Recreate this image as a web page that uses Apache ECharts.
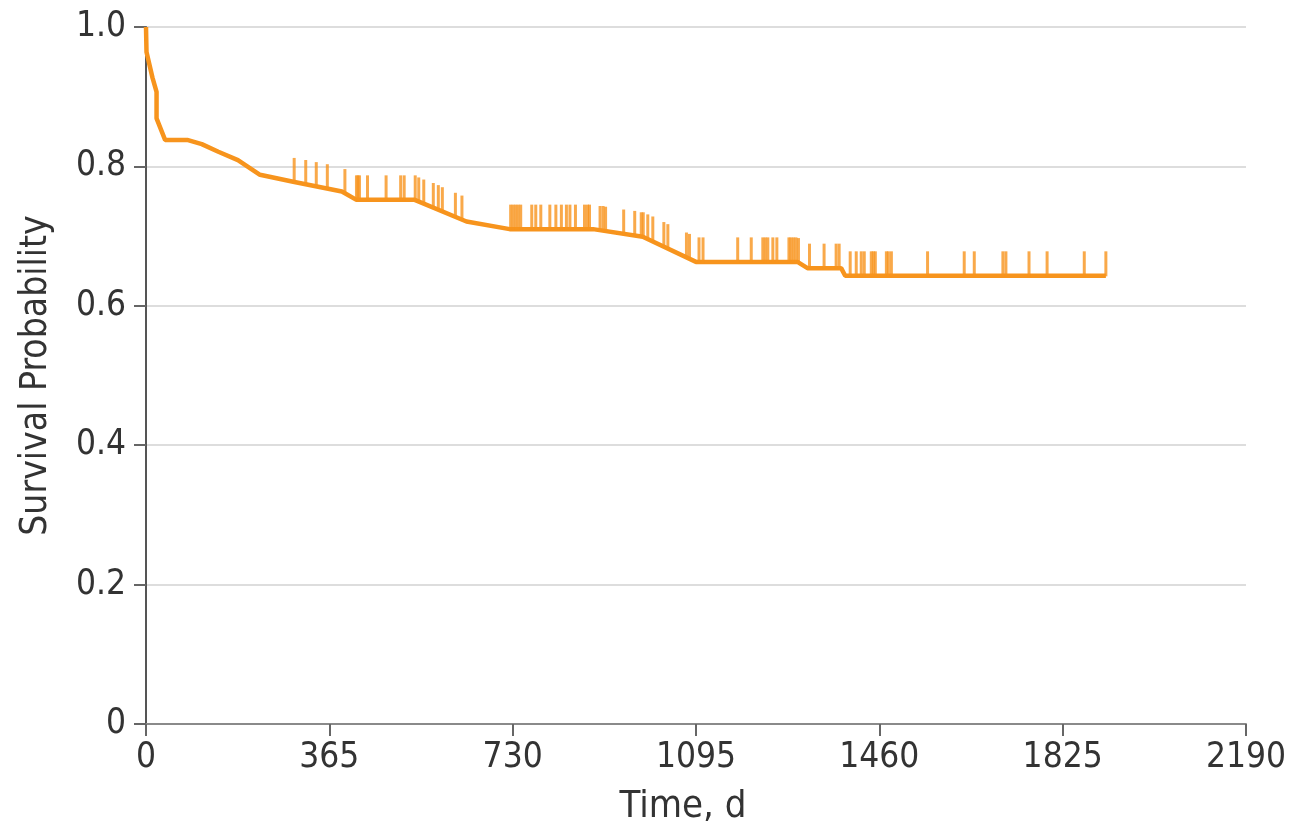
<!DOCTYPE html>
<html>
<head>
<meta charset="utf-8">
<script src="https://cdn.jsdelivr.net/npm/echarts@6/dist/echarts.min.js"></script>
<style>
  html, body { margin: 0; padding: 0; background: #fff; }
  #chart { width: 1294px; height: 839px; }
</style>
</head>
<body>
<div id="chart"></div>
<script>
// Kaplan-Meier curve (days, survival probability)
const curveDays = [0, 1, 13, 21, 21, 38, 82, 111, 144, 183, 227, 293, 390, 419, 535, 638, 724, 890, 989, 1095, 1297, 1317, 1384, 1392, 1911]
const curveSurv = [1.0, 0.964, 0.927, 0.907, 0.869, 0.838, 0.838, 0.832, 0.821, 0.809, 0.788, 0.778, 0.764, 0.752, 0.752, 0.721, 0.710, 0.710, 0.699, 0.663, 0.663, 0.654, 0.654, 0.643, 0.643]

// censored observations (tick marks)
const censorDays = [
  295, 318, 339, 361, 396,
  419, 422, 425, 441, 478, 507, 514,
  536, 543, 553, 572, 582, 590, 616, 629,
  726, 731, 736, 741, 746, 768, 776, 786, 804, 816, 827, 837, 844, 855, 873, 879, 883,
  904, 910, 915, 951, 973, 986,
  990, 999, 1009, 1031, 1039, 1076, 1082,
  1101, 1109, 1178, 1205, 1228, 1233, 1238, 1248, 1256, 1280, 1284, 1289, 1294, 1299,
  1321, 1350, 1374, 1380,
  1402, 1414, 1424, 1430, 1444, 1448, 1452, 1474, 1478, 1484, 1556, 1629, 1649, 1706, 1712, 1758, 1794, 1868, 1911
]
const censorSurv = [
  0.777, 0.774, 0.771, 0.768, 0.761,
  0.752, 0.752, 0.752, 0.752, 0.752, 0.752, 0.752,
  0.752, 0.749, 0.746, 0.741, 0.738, 0.735, 0.727, 0.723,
  0.710, 0.710, 0.710, 0.710, 0.710, 0.710, 0.710, 0.710, 0.710, 0.710, 0.710, 0.710, 0.710, 0.710, 0.710, 0.710, 0.710,
  0.708, 0.708, 0.707, 0.703, 0.701, 0.699,
  0.699, 0.696, 0.693, 0.685, 0.682, 0.670, 0.668,
  0.663, 0.663, 0.663, 0.663, 0.663, 0.663, 0.663, 0.663, 0.663, 0.663, 0.663, 0.663, 0.663, 0.662,
  0.654, 0.654, 0.654, 0.654,
  0.643, 0.643, 0.643, 0.643, 0.643, 0.643, 0.643, 0.643, 0.643, 0.643, 0.643, 0.643, 0.643, 0.643, 0.643, 0.643, 0.643, 0.643, 0.643
]

const xTicks = [0, 365, 730, 1095, 1460, 1825, 2190]
const yTicks = [0, 0.2, 0.4, 0.6, 0.8, 1.0]

const orange = '#F7941D'
const font = '"DejaVu Sans Condensed", "DejaVu Sans", sans-serif'

const chart = echarts.init(document.getElementById('chart'))

chart.setOption({
  animation: false,
  grid: { left: 146, right: 48, top: 27, bottom: 115 },
  xAxis: {
    type: 'value',
    min: xTicks[0],
    max: xTicks[xTicks.length - 1],
    interval: 365,
    name: 'Time, d',
    nameLocation: 'middle',
    nameGap: 64,
    nameTextStyle: { fontFamily: font, fontSize: 38, color: '#333', padding: [0, 26, 0, 0] },
    axisLine: { show: true, onZero: false, lineStyle: { color: '#8a8a8a', width: 2 } },
    axisTick: { show: true, length: 12, lineStyle: { color: '#666', width: 2 } },
    axisLabel: { fontFamily: font, fontSize: 35, color: '#333', margin: 16, formatter: v => String(v) },
    splitLine: { show: false }
  },
  yAxis: {
    type: 'value',
    min: yTicks[0],
    max: yTicks[yTicks.length - 1],
    interval: 0.2,
    name: 'Survival Probability',
    nameLocation: 'middle',
    nameGap: 91,
    nameTextStyle: { fontFamily: font, fontSize: 37, color: '#333' },
    axisLine: { show: true, lineStyle: { color: '#555', width: 2 } },
    axisTick: { show: true, length: 12, lineStyle: { color: '#666', width: 2 } },
    axisLabel: {
      fontFamily: font, fontSize: 35, color: '#333', margin: 20,
      formatter: v => (v === 0 ? '0' : v.toFixed(1))
    },
    splitLine: { show: true, lineStyle: { color: '#dddddd', width: 2 } }
  },
  series: [
    {
      type: 'line',
      data: curveDays.map((d, i) => [d, curveSurv[i]]),
      showSymbol: false,
      lineStyle: { color: orange, width: 4.5 },
      z: 3
    },
    {
      type: 'scatter',
      data: censorDays.map((d, i) => [d, censorSurv[i]]),
      symbol: 'rect',
      symbolSize: [3, 25],
      symbolOffset: [0, -12],
      itemStyle: { color: orange },
      z: 4
    }
  ]
})
</script>
</body>
</html>
